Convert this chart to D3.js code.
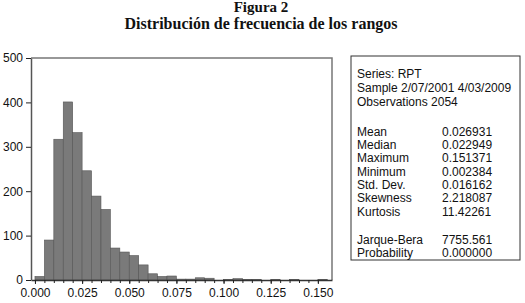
<!DOCTYPE html>
<html>
<head>
<meta charset="utf-8">
<script src="https://cdn.jsdelivr.net/npm/d3@7"></script>
<style>
    body { margin: 0; background: #fff; }
    svg { display: block; }
    .title { font-family: "Liberation Serif", "Times New Roman", serif; font-weight: bold; fill: #111; }
    .axis text, .stats text { font-family: "Liberation Sans", Arial, sans-serif; font-size: 12px; fill: #111; }
</style>
</head>
<body>
<div id="chart"></div>
<script>
// histogram bins (lower edge) and counts
var binStarts = d3.range(31).map(function(i) { return +(i * 0.005).toFixed(3); });
var binWidth = 0.005;
var counts = [8, 90, 317, 401, 332, 246, 189, 159, 72, 63, 55, 34, 14, 8, 9, 2, 2, 5, 4, 0, 1, 3, 1, 1, 0, 1, 0, 1, 0, 0, 1];

var xTickValues = [0, 0.025, 0.05, 0.075, 0.1, 0.125, 0.15];
var yTickValues = [0, 100, 200, 300, 400, 500];

var titleLines = ["Figura 2", "Distribución de frecuencia de los rangos"];

var headerLines = ["Series: RPT", "Sample 2/07/2001 4/03/2009", "Observations 2054"];
var statLabels = ["Mean", "Median", "Maximum", "Minimum", "Std. Dev.", "Skewness", "Kurtosis"];
var statValues = ["0.026931", "0.022949", "0.151371", "0.002384", "0.016162", "2.218087", "11.42261"];
var testLabels = ["Jarque-Bera", "Probability"];
var testValues = ["7755.561", "0.000000"];

var width = 525, height = 303;

var svg = d3.select("#chart").append("svg")
    .attr("width", width)
    .attr("height", height);

// title
svg.selectAll(".title")
    .data(titleLines)
    .enter().append("text")
    .attr("class", "title")
    .attr("text-anchor", "middle")
    .attr("x", 261)
    .attr("y", function(d, i) { return i ? 29 : 12; })
    .style("font-size", function(d, i) { return i ? "16px" : "15px"; })
    .text(function(d) { return d; });

var plot = { left: 31, right: 332, top: 58, bottom: 280 };

var xScale = d3.scaleLinear()
    .domain([-0.0021, 0.1575])
    .range([plot.left, plot.right]);

var yScale = d3.scaleLinear()
    .domain([0, 500])
    .range([plot.bottom, plot.top]);

// frame (top and right)
svg.append("path")
    .attr("d", "M" + plot.left + "," + plot.top + "H" + plot.right + "V" + plot.bottom)
    .attr("fill", "none")
    .attr("stroke", "#777")
    .attr("stroke-width", 1.5);

// bars
svg.selectAll(".bar")
    .data(counts)
    .enter().append("rect")
    .attr("class", "bar")
    .attr("x", function(d, i) { return xScale(binStarts[i]); })
    .attr("y", function(d) { return yScale(d); })
    .attr("width", function(d, i) { return xScale(binStarts[i] + binWidth) - xScale(binStarts[i]); })
    .attr("height", function(d) { return yScale(0) - yScale(d); })
    .attr("fill", "#7a7a7a")
    .attr("stroke", "#555")
    .attr("stroke-width", 0.6);

// x axis: minor ticks at every bin edge, labels at 0.025
var xMinor = d3.axisBottom(xScale)
    .tickValues(d3.range(31).map(function(i) { return i * 0.005; }))
    .tickSize(3)
    .tickFormat("")
    .tickSizeOuter(0);

svg.append("g")
    .attr("class", "axis")
    .attr("transform", "translate(0," + plot.bottom + ")")
    .call(xMinor)
    .call(function(g) { g.select(".domain").attr("stroke", "#333").attr("stroke-width", 1.5); });

var xAxis = d3.axisBottom(xScale)
    .tickValues(xTickValues)
    .tickSize(4)
    .tickPadding(4)
    .tickFormat(d3.format(".3f"));

svg.append("g")
    .attr("class", "axis")
    .attr("transform", "translate(0," + plot.bottom + ")")
    .call(xAxis)
    .call(function(g) { g.select(".domain").remove(); });

var yAxis = d3.axisLeft(yScale)
    .tickValues(yTickValues)
    .tickSize(5)
    .tickPadding(3)
    .tickSizeOuter(0);

svg.append("g")
    .attr("class", "axis")
    .attr("transform", "translate(" + plot.left + ",0)")
    .call(yAxis)
    .call(function(g) { g.select(".domain").attr("stroke", "#555").attr("stroke-width", 1.5); });

svg.selectAll(".axis .tick line").attr("stroke", "#222");

// stats box
var stats = svg.append("g").attr("class", "stats");

stats.append("rect")
    .attr("x", 351)
    .attr("y", 56)
    .attr("width", 169)
    .attr("height", 204)
    .attr("fill", "#fff")
    .attr("stroke", "#333")
    .attr("stroke-width", 1);

stats.selectAll(".hdr")
    .data(headerLines)
    .enter().append("text")
    .attr("x", 357)
    .attr("y", function(d, i) { return 77.5 + i * 14.2; })
    .text(function(d) { return d; });

function statRows(labels, values, y0) {
    labels.forEach(function(lab, i) {
        stats.append("text")
            .attr("x", 357)
            .attr("y", y0 + i * 13.3)
            .text(lab);
        stats.append("text")
            .attr("x", 442)
            .attr("y", y0 + i * 13.3)
            .text(values[i]);
    });
}

statRows(statLabels, statValues, 135.8);
statRows(testLabels, testValues, 244);
</script>
</body>
</html>
